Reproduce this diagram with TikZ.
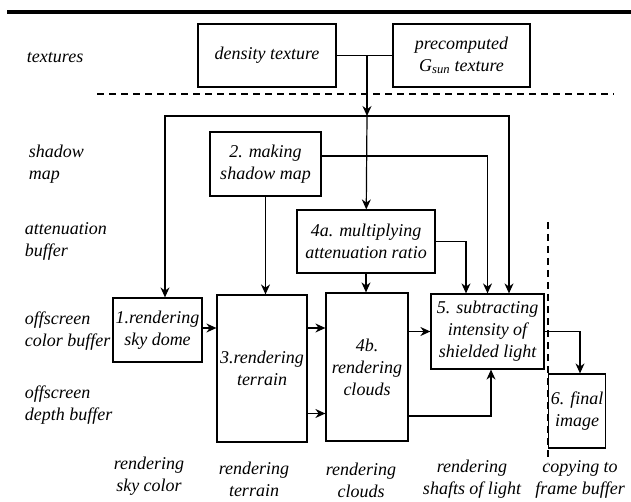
\documentclass[tikz,border=0pt]{standalone}
\usepackage{fontspec}
\newfontfamily\figfont{Liberation Serif}
\usetikzlibrary{arrows.meta}
\begin{document}
\begin{tikzpicture}[x=1pt,y=-1pt,line width=1.2pt,
    >={Stealth[length=10pt,width=9pt]},
    every node/.style={font=\fontsize{18}{22}\selectfont\figfont\itshape,align=center},
    box/.style={draw,inner sep=2pt},
    lbl/.style={anchor=west,align=left}]
  \useasboundingbox (0,0) rectangle (631,502);
  \draw[line width=3.5pt] (7,12) -- (631,12);
  \draw[dash pattern=on 7pt off 5pt] (97,94) -- (614,94);
  \draw[dash pattern=on 7pt off 5pt] (548,222) -- (548,462);

  \node[lbl] (ltex) at (23,58) {textures};
  \node[lbl] (lmap) at (25,164) {shadow\\map};
  \node[lbl] (latt) at (21,241) {attenuation\\buffer};
  \node[lbl] (lcol) at (21,331) {offscreen\\color buffer};
  \node[lbl] (ldep) at (21,405) {offscreen\\depth buffer};

  \node[box,minimum width=138pt,minimum height=63pt] (dens) at (267,55.5) {density texture};
  \node[box,minimum width=137pt,minimum height=63pt] (gsun) at (461.5,55.5) {precomputed\\G\textsubscript{sun} texture};
  \node[box,minimum width=111pt,minimum height=64pt] (map) at (265.5,164) {2. making\\shadow map};
  \node[box,minimum width=138pt,minimum height=63pt] (att) at (366,241.5) {4a. multiplying\\attenuation ratio};
  \node[box,minimum width=89pt,minimum height=64pt] (sky) at (157.5,330) {1.rendering\\sky dome};
  \node[box,minimum width=90pt,minimum height=147pt] (ter) at (262,368.5) {3.rendering\\terrain};
  \node[box,minimum width=82pt,minimum height=148pt] (cld) at (367,367) {4b.\\rendering\\clouds};
  \node[box,minimum width=113pt,minimum height=75pt] (sub) at (487.5,331.5) {5. subtracting\\intensity of\\shielded light};
  \node[box,minimum width=48pt,minimum height=74pt] (fin) at (577,411) {6. final\\image};

  \node (rsky) at (149,476) {rendering\\sky color};
  \node (rter) at (254,479) {rendering\\terrain};
  \node (rcld) at (361,480) {rendering\\clouds};
  \node (rsha) at (472,479) {rendering\\shafts of light};
  \node (rcop) at (580,479) {copying to\\frame buffer};

  \coordinate (j) at (367,56.5);
  \coordinate (top) at (367,116);
  \coordinate (lft) at (165,116);
  \coordinate (rgt) at (509,116);

  \draw (dens) -- (gsun);
  \draw[->] (j) -- (top);
  \draw[->] (top) -- (att);
  \draw[->] (top) -- (lft) -- (lft |- sky.north);
  \draw[->] (top) -- (rgt) -- (rgt |- sub.north);
  \draw[->] ([yshift=8pt]map.east) -| (sub.north);
  \draw[->] (map) -- (map |- ter.north);
  \draw[->] (att.east) -| ([xshift=-21.5pt]sub.north);
  \draw[->] (att) -- (att |- cld.north);
  \draw[->] ([yshift=2pt]sky.east) -- ([yshift=2pt]sky.east -| ter.west);
  \draw[->] ([yshift=2pt]sky.east -| ter.east) -- ([yshift=2pt]sky.east -| cld.west);
  \draw[->] ([yshift=-45pt]ter.east) -- ([yshift=-45pt]ter.east -| cld.west);
  \draw[->] (cld.east |- sub) -- (sub.west);
  \draw[->] ([yshift=-49pt]cld.east) -| ([xshift=3.5pt]sub.south);
  \draw[->] (sub.east) -| ([xshift=3pt]fin.north);
\end{tikzpicture}
\end{document}
